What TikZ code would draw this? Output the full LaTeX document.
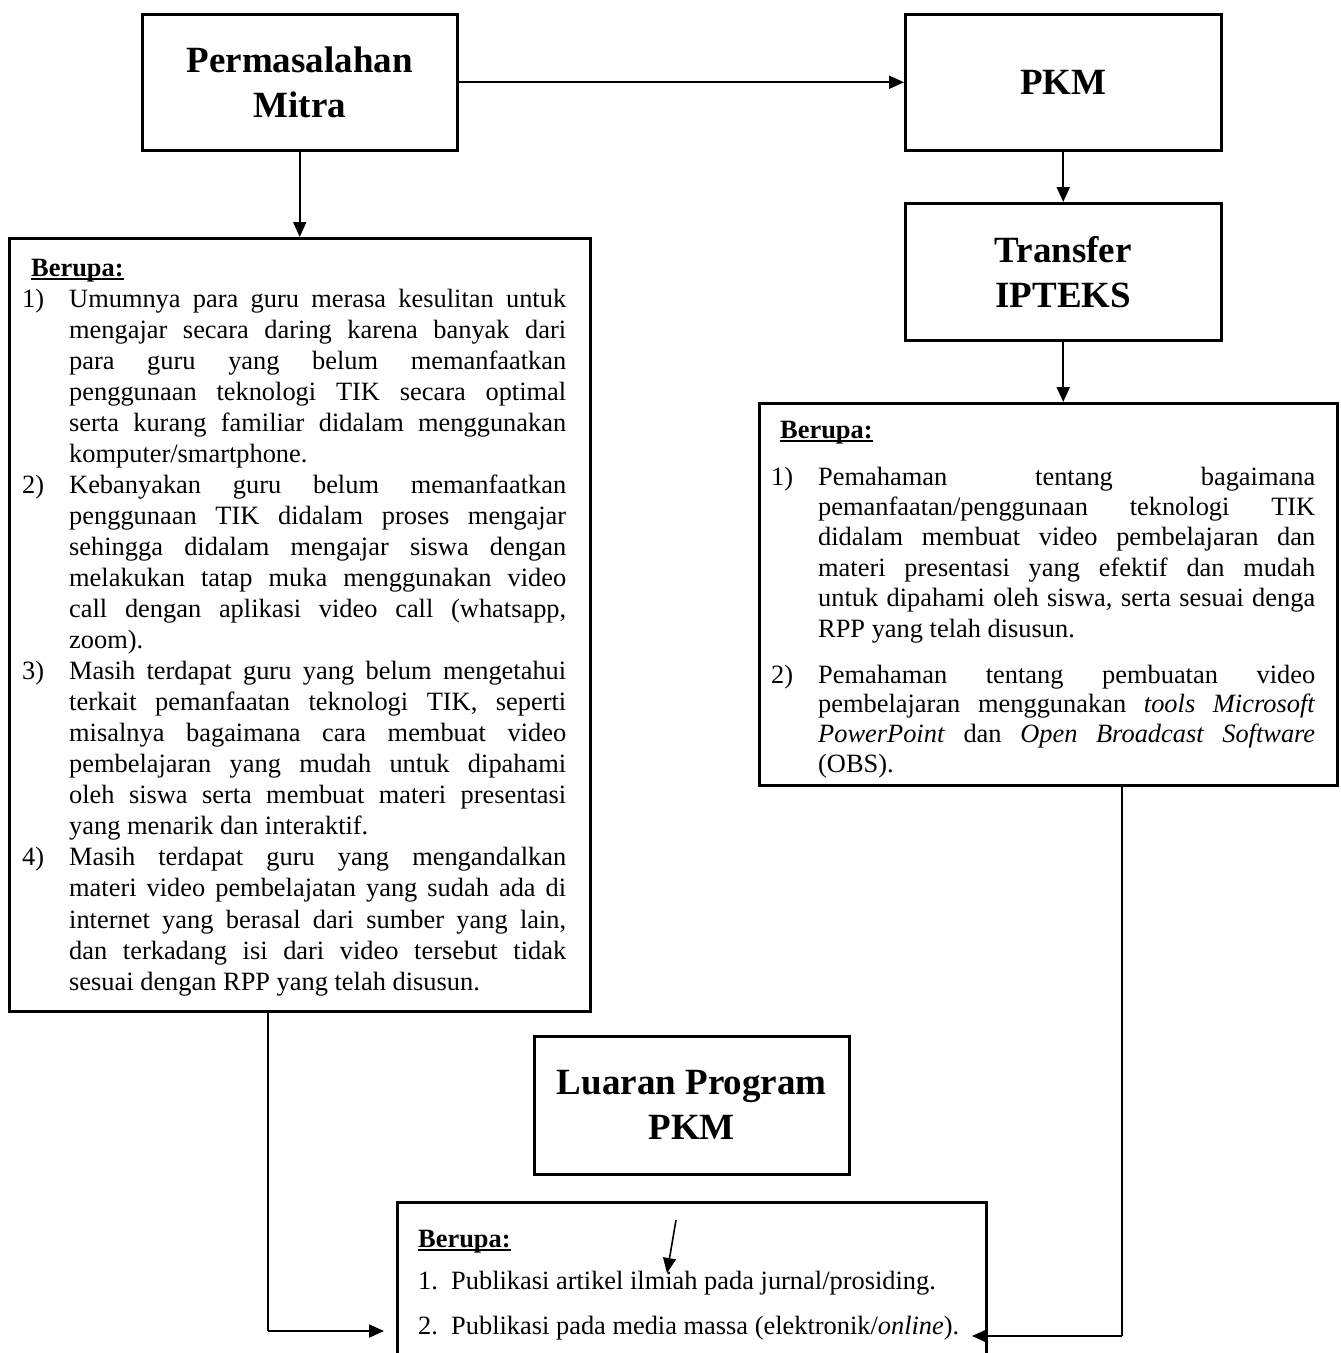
\documentclass[tikz,border=0pt]{standalone}
\usepackage{fontspec}
\setmainfont{Liberation Serif}
\usetikzlibrary{arrows.meta,calc}
\newcommand\J[1]{\makebox[\linewidth][s]{#1}}
\newcommand\ulb[1]{\setbox0\hbox{\textbf{#1}}\rlap{\rule[-3.5pt]{\wd0}{1.8pt}}\box0}
\begin{document}
\begin{tikzpicture}[x=1pt,y=-1pt,
 box/.style={draw, line width=2.5pt, inner sep=0pt, anchor=north west},
 ttl/.style={font=\fontsize{37}{45}\selectfont\bfseries, align=center},
 arr/.style={line width=2pt, -{Triangle[length=15pt,width=13pt]}},
 thinl/.style={line width=1.1pt},
 body/.style={font=\fontsize{26.4}{31.05}\selectfont, inner sep=0pt, anchor=base west},
 bodyr/.style={font=\fontsize{26.4}{30.4}\selectfont, inner sep=0pt, anchor=base west},
 bodyq/.style={font=\fontsize{26.4}{29.7}\selectfont, inner sep=0pt, anchor=base west},
 hd/.style={font=\fontsize{26.4}{30}\selectfont, inner sep=0pt, anchor=base west},
]
\useasboundingbox (0,0) rectangle (1341,1353);
\fill[white] (0,0) rectangle (1341,1353);
\clip (0,0) rectangle (1341,1353);

% boxes
\node[box, ttl, minimum width=315pt, minimum height=136pt] (perm) at (141,13) {Permasalahan\\Mitra};
\node[box, ttl, minimum width=316pt, minimum height=136pt] (pkm) at (904,13) {PKM};
\node[box, ttl, minimum width=316pt, minimum height=137pt] (trf) at (904,202) {Transfer\\IPTEKS};
\node[box, minimum width=581pt, minimum height=773pt] (lbox) at (8,237) {};
\node[box, minimum width=578pt, minimum height=382pt] (rbox) at (758,402) {};
\node[box, ttl, minimum width=315pt, minimum height=138pt] (luar) at (533,1035) {Luaran Program\\PKM};
\node[box, minimum width=589pt, minimum height=220pt] (obox) at (396,1201) {};

% arrows
\draw[arr] (perm.east) -- (pkm.west);
\draw[arr] (perm.south) -- (lbox.north);
\draw[arr] (pkm.south) -- (trf.north);
\draw[arr] (trf.south) -- (trf.south |- rbox.north);

\coordinate (lc) at (268,1331);
\coordinate (lt) at (384,1331);
\draw[thinl] (lbox.south -| lc) -- (lc);
\draw[arr] (lc) -- (lt);
\coordinate (rc) at (1122,1336);
\coordinate (rt) at (972,1336);
\draw[thinl] (rbox.south -| rc) -- (rc);
\draw[arr] (rc) -- (rt);
\coordinate (sa) at (676,1220);
\coordinate (sb) at (667,1273);
\draw[arr, line width=1.6pt] (sa) -- (sb);

% left box text
\node[hd] (lhd) at (31,276) {\ulb{Berupa:}};
\node[body] (ln1) at (22,307) {1)};
\node[body] (lt1) at (69,307) {\parbox[t]{497pt}{%
\J{Umumnya para guru merasa kesulitan untuk}\\
\J{mengajar secara daring karena banyak dari}\\
\J{para guru yang belum memanfaatkan}\\
\J{penggunaan teknologi TIK secara optimal}\\
\J{serta kurang familiar didalam menggunakan}\\
komputer/smartphone.}};
\node[body] (ln2) at (22,493.3) {2)};
\node[body] (lt2) at (69,493.3) {\parbox[t]{497pt}{%
\J{Kebanyakan guru belum memanfaatkan}\\
\J{penggunaan TIK didalam proses mengajar}\\
\J{sehingga didalam mengajar siswa dengan}\\
\J{melakukan tatap muka menggunakan video}\\
\J{call dengan aplikasi video call (whatsapp,}\\
zoom).}};
\node[body] (ln3) at (22,679.6) {3)};
\node[body] (lt3) at (69,679.6) {\parbox[t]{497pt}{%
\J{Masih terdapat guru yang belum mengetahui}\\
\J{terkait pemanfaatan teknologi TIK, seperti}\\
\J{misalnya bagaimana cara membuat video}\\
\J{pembelajaran yang mudah untuk dipahami}\\
\J{oleh siswa serta membuat materi presentasi}\\
yang menarik dan interaktif.}};
\node[body] (ln4) at (22,865.9) {4)};
\node[body] (lt4) at (69,865.9) {\parbox[t]{497pt}{%
\J{Masih terdapat guru yang mengandalkan}\\
\J{materi video pembelajatan yang sudah ada di}\\
\J{internet yang berasal dari sumber yang lain,}\\
\J{dan terkadang isi dari video tersebut tidak}\\
sesuai dengan RPP yang telah disusun.}};

% right box text
\node[hd] (rhd) at (780,438) {\ulb{Berupa:}};
\node[bodyr] (rn1) at (771,485) {1)};
\node[bodyr] (rt1) at (818,485) {\parbox[t]{497pt}{%
\J{Pemahaman tentang bagaimana}\\
\J{pemanfaatan/penggunaan teknologi TIK}\\
\J{didalam membuat video pembelajaran dan}\\
\J{materi presentasi yang efektif dan mudah}\\
\J{untuk dipahami oleh siswa, serta sesuai denga}\\
RPP yang telah disusun.}};
\node[bodyq] (rn2) at (771,683) {2)};
\node[bodyq] (rt2) at (818,683) {\parbox[t]{497pt}{%
\J{Pemahaman tentang pembuatan video}\\
\J{pembelajaran menggunakan \textit{tools Microsoft}}\\
\J{\textit{PowerPoint} dan \textit{Open Broadcast Software}}\\
(OBS).}};

% bottom box text
\node[hd] (bhd) at (418,1247) {\ulb{Berupa:}};
\node[body] (bn1) at (418,1289) {1.};
\node[body] (bt1) at (451,1289) {Publikasi artikel ilmiah pada jurnal/prosiding.};
\node[body] (bn2) at (418,1334) {2.};
\node[body] (bt2) at (451,1334) {Publikasi pada media massa (elektronik/\textit{online}).};
\end{tikzpicture}
\end{document}
